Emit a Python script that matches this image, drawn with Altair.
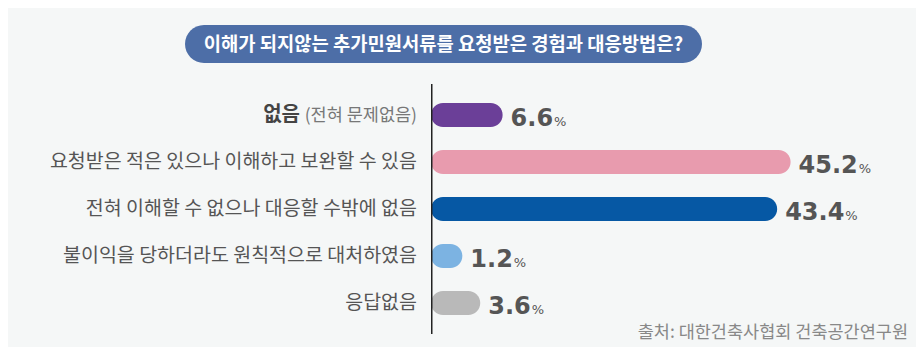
import altair as alt
import pandas as pd

# ---- data ----
categories = [
    "없음",
    "요청받은 적은 있으나 이해하고 보완할 수 있음",
    "전혀 이해할 수 없으나 대응할 수밖에 없음",
    "불이익을 당하더라도 원칙적으로 대처하였음",
    "응답없음",
]
subtexts = ["(전혀 문제없음)", "", "", "", ""]
values = [6.6, 45.2, 43.4, 1.2, 3.6]
colors = ["#6b3f98", "#e89bae", "#0658a4", "#7cb3e2", "#b9b9b9"]
title_text = "이해가 되지않는 추가민원서류를 요청받은 경험과 대응방법은?"
source_text = "출처: 대한건축사협회 건축공간연구원"

df = pd.DataFrame({"cat": categories, "sub": subtexts, "value": values, "color": colors})

KFONT = "Noto Sans CJK KR"
NFONT = "DejaVu Sans"
BASE = -3
XMAX = 60
W = 470
PX_PER_UNIT = W / (XMAX - BASE)

xscale = alt.Scale(domain=[BASE, XMAX], nice=False, zero=False)
yenc = alt.Y("cat:N", sort=categories, axis=None,
             scale=alt.Scale(paddingInner=0, paddingOuter=0))

base = alt.Chart(df)

bars = base.mark_bar(size=24, cornerRadiusEnd=12).encode(
    x=alt.X("value:Q", scale=xscale, axis=None),
    x2=alt.datum(BASE),
    y=yenc,
    color=alt.Color("color:N", scale=None, legend=None),
)

num = base.transform_calculate(
    lab="format(datum.value, '.1f')"
).mark_text(
    align="left", baseline="alphabetic", dx=8, dy=11,
    font=NFONT, fontWeight="bold", fontSize=24, color="#555555"
).encode(x=alt.X("value:Q", scale=xscale), y=yenc, text="lab:N")

pct = base.transform_calculate(
    off="8 + (length(format(datum.value, '.1f')) - 1) * 16.7 + 9.1 + 1",
).transform_calculate(
    px=f"datum.value + datum.off / {PX_PER_UNIT}"
).mark_text(
    align="left", baseline="alphabetic", dy=11,
    font=NFONT, fontSize=13, color="#555555"
).encode(
    x=alt.X("px:Q", scale=xscale),
    y=yenc,
    text=alt.value("%"),
)

labels_plain = base.transform_filter("datum.sub == ''").mark_text(
    align="right", baseline="middle", font=KFONT, fontSize=19.5, color="#555555"
).encode(x=alt.value(-14), y=yenc, text="cat:N")

labels_bold = base.transform_filter("datum.sub != ''").mark_text(
    align="right", baseline="middle", font=KFONT, fontSize=20,
    fontWeight="bold", color="#444444"
).encode(x=alt.value(-131), y=yenc, text="cat:N")

labels_sub = base.transform_filter("datum.sub != ''").mark_text(
    align="right", baseline="middle", font=KFONT, fontSize=17.5, color="#777777", dy=1
).encode(x=alt.value(-14), y=yenc, text="sub:N")

axis_rule = alt.Chart(pd.DataFrame({"a": [0]})).mark_rule(
    color="#222222", strokeWidth=1.5
).encode(x=alt.value(0.75), y=alt.value(-7.5), y2=alt.value(242.5))

pill = alt.Chart(pd.DataFrame({"t": [title_text]})).mark_rect(
    cornerRadius=19, color="#4d6ea7"
).encode(x=alt.value(-246), x2=alt.value(271), y=alt.value(-66.5), y2=alt.value(-28.5))

title = alt.Chart(pd.DataFrame({"t": [title_text]})).mark_text(
    align="center", baseline="middle", font=KFONT, fontSize=18.75,
    fontWeight="bold", color="white"
).encode(x=alt.value(12.5), y=alt.value(-47), text="t:N")

source = alt.Chart(pd.DataFrame({"t": [source_text]})).mark_text(
    align="right", baseline="alphabetic", font=KFONT, fontSize=17.5, color="#888888"
).encode(x=alt.value(477), y=alt.value(246), text="t:N")

chart = alt.layer(
    pill, title, bars, axis_rule, num, pct, labels_plain, labels_bold, labels_sub, source
).properties(
    width=W, height=235,
    padding={"left": 423, "top": 83.5, "right": 15, "bottom": 20.5},
    autosize=alt.AutoSizeParams(type="none"),
    background="#f5f7f7",
).configure_view(stroke=None)

chart.save("out.html", embed_options={"renderer": "svg", "actions": False})
